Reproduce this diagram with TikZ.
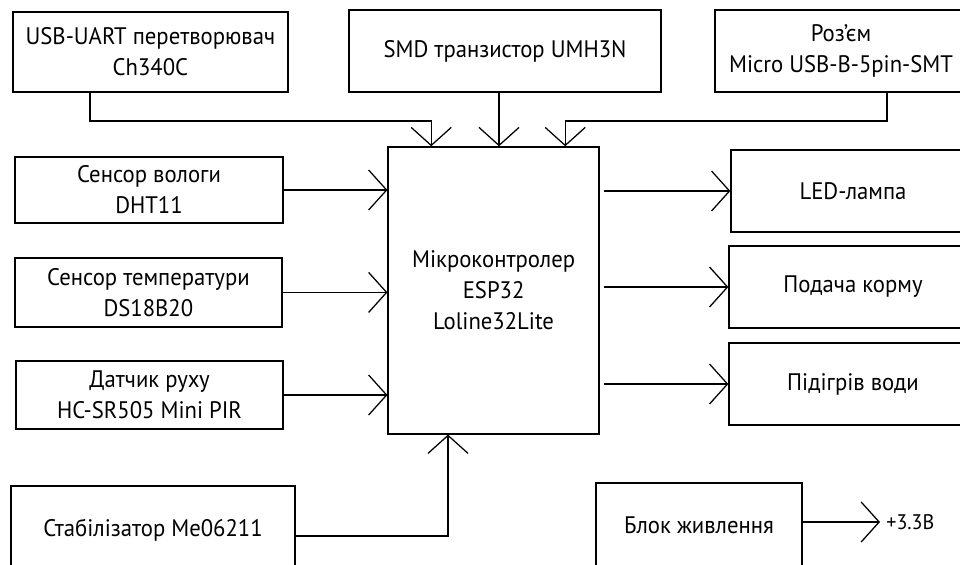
\documentclass[tikz,border=0pt]{standalone}
\usepackage{fontspec}
\setmainfont[FakeStretch=0.95]{PT Sans}
\usetikzlibrary{arrows.meta, positioning, calc}

\begin{document}
\begin{tikzpicture}[>={Straight Barb[length=4.5mm, width=10mm]}, font=\fontsize{17}{22}\selectfont,
        block/.style={draw, line width=0.9pt, align=center, inner sep=0pt},
        link/.style={->, line width=0.9pt}]
        \useasboundingbox (0,0) rectangle (24,14.1);

        % --- upper row: inputs over the top edge ---
        \node[block, minimum width=6.875cm, minimum height=2cm] (usb) at (3.76,12.8) {USB-UART перетворювач\\Ch340C};
        \node[block, minimum width=7.8cm, minimum height=2.05cm] (smd) at (12.625,12.825) {SMD транзистор UMH3N};
        \node[block, minimum width=6.3cm, minimum height=2.05cm] (conn) at (21.025,12.825) {Роз’єм\\Micro USB-B-5pin-SMT};

        % --- microcontroller ---
        \node[block, minimum width=5.275cm, minimum height=7.175cm] (mcu) at (12.34,6.84) {Мікроконтролер\\ESP32\\Loline32Lite};

        % --- sensors on the left ---
        \node[block, minimum width=6.7cm, minimum height=1.65cm] (hum) at (3.725,9.35) {Сенсор вологи\\DHT11};
        \node[block, minimum width=6.675cm, minimum height=1.725cm] (temp) at (3.71,6.79) {Сенсор температури\\DS18B20};
        \node[block, minimum width=6.675cm, minimum height=1.7cm] (pir) at (3.74,4.225) {Датчик руху\\HC-SR505 Mini PIR};

        % --- actuators on the right ---
        \node[block, minimum width=6.1cm, minimum height=2.05cm] (led) at (21.325,9.325) {LED-лампа};
        \node[block, minimum width=6.2cm, minimum height=2.05cm] (feed) at (21.325,6.925) {Подача корму};
        \node[block, minimum width=6.2cm, minimum height=2.05cm] (heat) at (21.325,4.5) {Підігрів води};

        % --- power ---
        \node[block, minimum width=7.1cm, minimum height=2.2cm] (stab) at (3.825,0.85) {Стабілізатор Me06211};
        \node[block, minimum width=5.15cm, minimum height=2.1cm] (psu) at (17.475,0.975) {Блок живлення};
        \coordinate (out) at (22.0,1.05);
        \node[right=1pt, font=\fontsize{15}{18}\selectfont] (volt) at (out) {+3.3В};

        % --- top connections ---
        \coordinate (bus) at (0,11.075);
        \draw[link] ([xshift=-1.51cm]usb.south) -- ([xshift=-1.51cm]usb.south |- bus) -| ([xshift=-1.56cm]mcu.north);
        \draw[link] ([xshift=-0.15cm]smd.south) -- ([xshift=-0.15cm]smd.south |- mcu.north);
        \draw[link] ([xshift=1.15cm]conn.south) -- ([xshift=1.15cm]conn.south |- bus) -| ([xshift=1.79cm]mcu.north);

        % --- sensors to mcu ---
        \foreach \src in {hum, temp, pir} {
            \draw[link] (\src.east) -- (\src.east -| mcu.west);
        }

        % --- mcu to actuators ---
        \foreach \dst in {led, feed, heat} {
            \draw[link, shorten <=1mm] (\dst.west -| mcu.east) -- (\dst.west);
        }

        % --- supply ---
        \draw[link] ([yshift=-1.5mm]stab.east) -| ([xshift=-1.14cm]mcu.south);
        \draw[link] (psu.east |- out) -- (out);
\end{tikzpicture}
\end{document}
